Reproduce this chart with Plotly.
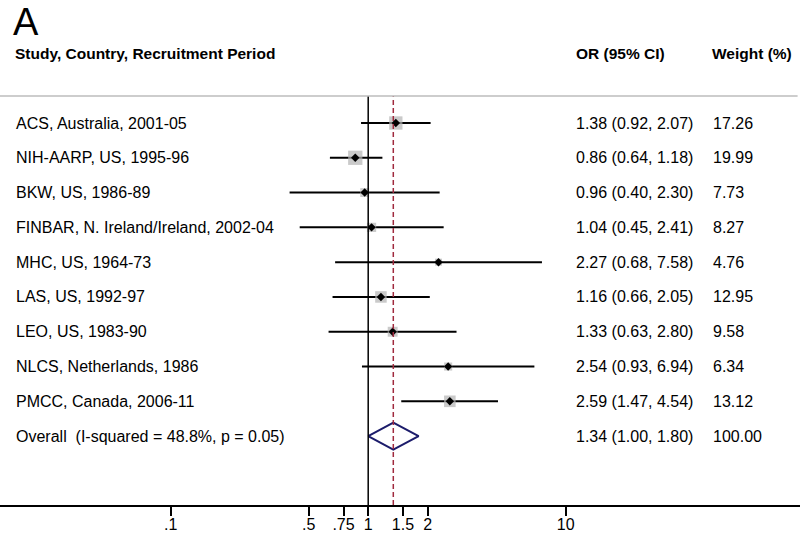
import plotly.graph_objects as go

# Study data
studies = [
    "ACS, Australia, 2001-05",
    "NIH-AARP, US, 1995-96",
    "BKW, US, 1986-89",
    "FINBAR, N. Ireland/Ireland, 2002-04",
    "MHC, US, 1964-73",
    "LAS, US, 1992-97",
    "LEO, US, 1983-90",
    "NLCS, Netherlands, 1986",
    "PMCC, Canada, 2006-11",
]
odds_ratio = [1.38, 0.86, 0.96, 1.04, 2.27, 1.16, 1.33, 2.54, 2.59]
ci_low = [0.92, 0.64, 0.40, 0.45, 0.68, 0.66, 0.63, 0.93, 1.47]
ci_high = [2.07, 1.18, 2.30, 2.41, 7.58, 2.05, 2.80, 6.94, 4.54]
weights = [17.26, 19.99, 7.73, 8.27, 4.76, 12.95, 9.58, 6.34, 13.12]

overall_label = "Overall  (I-squared = 48.8%, p = 0.05)"
overall_or = 1.34
overall_low = 1.00
overall_high = 1.80
overall_weight = 100.00

tick_vals = [0.1, 0.5, 0.75, 1, 1.5, 2, 10]
tick_text = [".1", ".5", ".75", "1", "1.5", "2", "10"]

FONT = "Arial, Liberation Sans, sans-serif"
rows = list(range(1, len(studies) + 1))
overall_row = len(studies) + 1

fig = go.Figure()

# Confidence interval lines
ci_x, ci_y = [], []
for lo, hi, r in zip(ci_low, ci_high, rows):
    ci_x += [lo, hi, None]
    ci_y += [r, r, None]
fig.add_trace(go.Scatter(x=ci_x, y=ci_y, mode="lines",
                         line=dict(color="black", width=2), hoverinfo="skip"))

# Weight boxes
fig.add_trace(go.Scatter(
    x=odds_ratio, y=rows, mode="markers",
    marker=dict(symbol="square", color="#b4b4b4",
                size=[3.2 * w ** 0.5 for w in weights], line=dict(width=0)),
))

# Point estimates
fig.add_trace(go.Scatter(
    x=odds_ratio, y=rows, mode="markers",
    marker=dict(symbol="diamond", color="black", size=6.5),
))

# Overall diamond
h = 0.39
fig.add_trace(go.Scatter(
    x=[overall_low, overall_or, overall_high, overall_or, overall_low],
    y=[overall_row, overall_row - h, overall_row, overall_row + h, overall_row],
    mode="lines", fill="toself", fillcolor="white",
    line=dict(color="#1c1c6b", width=2),
))

# Reference lines
fig.add_shape(type="line", xref="x", yref="paper", x0=1, x1=1, y0=0, y1=1,
              line=dict(color="black", width=1.5))
fig.add_shape(type="line", xref="x", yref="paper", x0=overall_or, x1=overall_or,
              y0=0, y1=1, line=dict(color="#a02a3e", width=1.5, dash="5px,3px"))
fig.add_shape(type="line", xref="paper", yref="paper", x0=0, x1=0.997, y0=1, y1=1,
              line=dict(color="#bdbdbd", width=1.5))

# Row text
def row_text(label, text_or, weight, r):
    fig.add_annotation(x=14 / 800, xref="paper", y=r, yref="y", text=label,
                       showarrow=False, xanchor="left", font=dict(size=16))
    fig.add_annotation(x=574 / 800, xref="paper", y=r, yref="y", text=text_or,
                       showarrow=False, xanchor="left", font=dict(size=16))
    fig.add_annotation(x=711 / 800, xref="paper", y=r, yref="y", text=f"{weight:.2f}",
                       showarrow=False, xanchor="left", font=dict(size=16))

for name, o, lo, hi, w, r in zip(studies, odds_ratio, ci_low, ci_high, weights, rows):
    row_text(name, f"{o:.2f} ({lo:.2f}, {hi:.2f})", w, r)
row_text(overall_label, f"{overall_or:.2f} ({overall_low:.2f}, {overall_high:.2f})",
         overall_weight, overall_row)

# Headers
hy = (505 - 53) / 409
for txt, xp in [("Study, Country, Recruitment Period", 13),
                ("OR (95% CI)", 574), ("Weight (%)", 710)]:
    fig.add_annotation(x=xp / 800, xref="paper", y=hy, yref="paper",
                       text=f"<b>{txt}</b>", showarrow=False, xanchor="left",
                       yanchor="middle", font=dict(size=15.5))
fig.add_annotation(x=11 / 800, xref="paper", y=(505 - 22) / 409, yref="paper",
                   text="A", showarrow=False, xanchor="left", yanchor="middle",
                   font=dict(size=38))

fig.update_layout(
    width=800, height=543,
    margin=dict(l=0, r=0, t=96, b=38, autoexpand=False),
    paper_bgcolor="white", plot_bgcolor="white",
    showlegend=False,
    font=dict(family=FONT, color="black"),
    xaxis=dict(type="log", range=[-1.864, 2.186], tickvals=tick_vals,
               ticktext=tick_text, ticks="outside", ticklen=9, tickwidth=1.5,
               tickcolor="black", showline=True, linecolor="black", linewidth=1.5,
               showgrid=False, zeroline=False, tickfont=dict(size=16),
               ticklabelstandoff=-5),
    yaxis=dict(range=[11.98, 0.224], visible=False, showgrid=False),
)

fig.write_html("out.html", config={"displayModeBar": False},
               post_script="document.body.style.margin = '0';")
